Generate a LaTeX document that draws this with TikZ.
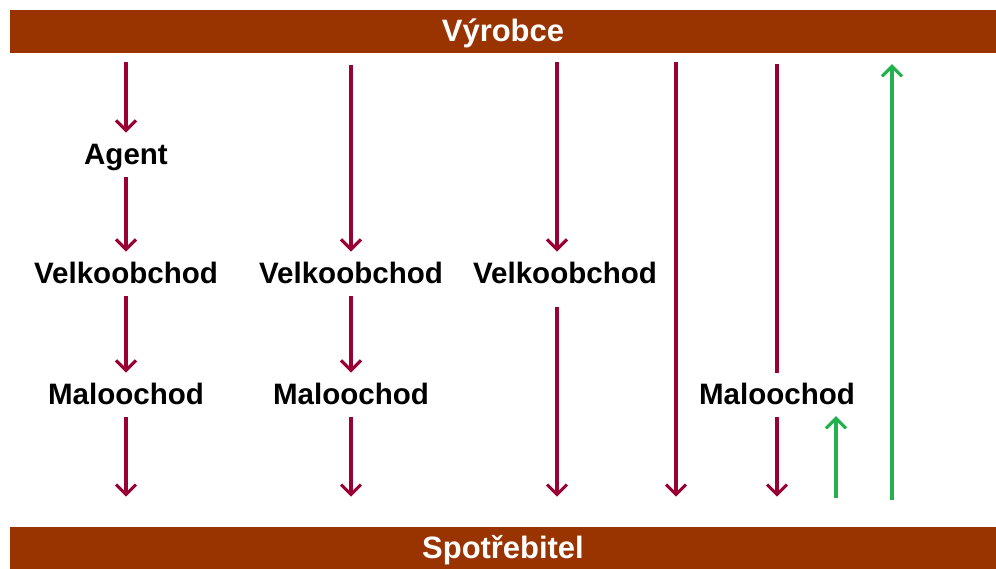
\documentclass[tikz,border=0pt]{standalone}
\usepackage{fontspec}
\setmainfont{Liberation Sans}
\usetikzlibrary{arrows.meta, positioning}
\definecolor{BarBrown}{HTML}{993300}
\definecolor{FlowRed}{HTML}{990033}
\definecolor{ReturnGreen}{HTML}{22B14C}
\tikzset{
    % Bars - producer and consumer
    bar/.style={
        rectangle,
        fill=BarBrown,
        text=white,
        minimum width=24.65cm,
        minimum height=1.075cm,
        inner sep=0pt,
        text height=0.6cm,
        text depth=0.125cm,
        font=\bfseries\fontsize{22}{26}\selectfont
    },
    % Intermediaries
    level/.style={
        rectangle,
        inner xsep=0pt,
        inner ysep=0.25cm,
        text height=0.55cm,
        text depth=0.06cm,
        font=\bfseries\fontsize{21}{25}\selectfont
    },
    % Arrow styles
    flow/.style={
        -{Straight Barb[length=0.25cm, width=0.5cm]},
        line width=2.2pt,
        draw=FlowRed
    },
    plainflow/.style={
        line width=2.2pt,
        draw=FlowRed
    },
    backflow/.style={
        -{Straight Barb[length=0.25cm, width=0.5cm]},
        line width=2.3pt,
        draw=ReturnGreen
    },
    frombar/.style={shorten <=0.225cm},
    tobar/.style={shorten >=0.75cm}
}
\begin{document}
\begin{tikzpicture}[x=0.025cm, y=-0.025cm]
    \useasboundingbox (0,0) rectangle (996,568);

    % Bars
    \node[bar] (vyrobce) at (503,31.5) {Výrobce};
    \node[bar] (spot) at (503,548.5) {Spotřebitel};

    % Chain 1
    \node[level] (agent) at (126,155) {Agent};
    \node[level] (velk1) at (126,274) {Velkoobchod};
    \node[level] (mal1) at (126,395) {Maloochod};
    \draw[flow, frombar] (vyrobce.south -| agent) -- (agent);
    \draw[flow] (agent) -- (velk1);
    \draw[flow] (velk1) -- (mal1);
    \draw[flow, tobar] (mal1) -- (spot.north -| mal1);

    % Chain 2
    \node[level] (velk2) at (351,274) {Velkoobchod};
    \node[level] (mal2) at (351,395) {Maloochod};
    \draw[flow, frombar, shorten <=0.3cm] (vyrobce.south -| velk2) -- (velk2);
    \draw[flow] (velk2) -- (mal2);
    \draw[flow, tobar] (mal2) -- (spot.north -| mal2);

    % Chain 3
    \coordinate (c3) at (557,274);
    \node[level] (velk3) at (565,274) {Velkoobchod};
    \draw[flow, frombar] (vyrobce.south -| c3) -- (velk3.north -| c3);
    \draw[flow, tobar, shorten <=0.27cm] (velk3.south -| c3) -- (spot.north -| c3);

    % Chain 4 - direct
    \coordinate (c4) at (676,300);
    \draw[flow, frombar, tobar] (vyrobce.south -| c4) -- (spot.north -| c4);

    % Chain 5
    \node[level] (mal5) at (777,395) {Maloochod};
    \draw[plainflow, frombar, shorten <=0.27cm] (vyrobce.south -| mal5) -- (mal5);
    \draw[flow, tobar] (mal5) -- (spot.north -| mal5);

    % Returns
    \coordinate (g1) at (836,416);
    \coordinate (g2) at (892,64);
    \draw[backflow, shorten <=0.72cm] (spot.north -| g1) -- (g1);
    \draw[backflow, shorten <=0.675cm] (spot.north -| g2) -- (g2);
\end{tikzpicture}
\end{document}
